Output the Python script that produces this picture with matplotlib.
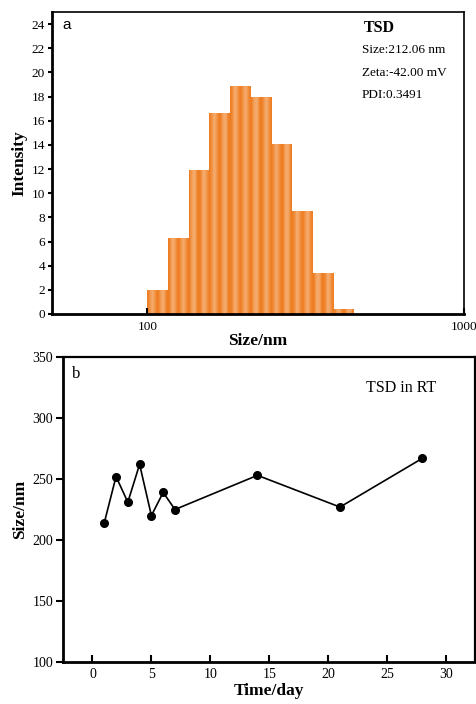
import numpy as np
import matplotlib
matplotlib.use("Agg")
import matplotlib.pyplot as plt
from matplotlib.colors import to_rgb

plt.rcParams['font.family'] = ['Liberation Serif', 'DejaVu Serif']

# ---- data: panel a (size distribution) ----
bin_edges_nm = [100.0, 116.2, 135.1, 157.0, 182.5, 212.1, 246.6, 286.6, 333.1, 387.2, 450.1]
intensity = [1.95, 6.3, 11.9, 16.6, 18.9, 18.0, 14.05, 8.5, 3.4, 0.38]
a_yticks = list(range(0, 25, 2))
a_xticks = [100, 1000]
a_info_title = "TSD"
a_info_lines = ["Size:212.06 nm", "Zeta:-42.00 mV", "PDI:0.3491"]

# ---- data: panel b (stability) ----
days = [1, 2, 3, 4, 5, 6, 7, 14, 21, 28]
size_nm = [214, 252, 231, 262, 220, 239, 225, 253, 227, 267]
b_xticks = [0, 5, 10, 15, 20, 25, 30]
b_yticks = [100, 150, 200, 250, 300, 350]

fig = plt.figure(figsize=(4.77, 7.04), dpi=100)

# ---------------- panel a ----------------
ax1 = fig.add_axes([52/477, 1-314/704, (464-52)/477, (314-12)/704])
ax1.set_xscale('log')
dark = np.array(to_rgb('#EE7D22'))
light = np.array(to_rgb('#F4AA6B'))
nstrip = 24
for lo, hi, h in zip(bin_edges_nm[:-1], bin_edges_nm[1:], intensity):
    llo, lhi = np.log10(lo), np.log10(hi)
    edges = np.linspace(llo, lhi, nstrip + 1)
    for k in range(nstrip):
        f = (k + 0.5) / nstrip
        w = 0.5 - 0.5 * np.cos(2 * np.pi * 2 * f)
        c = dark * (1 - w) + light * w
        l0, l1 = 10 ** edges[k], 10 ** edges[k + 1]
        ax1.bar(l0, h, width=(l1 - l0) * 1.05, align='edge', color=c,
                linewidth=0, antialiased=False)
ax1.set_xlim(50, 1000)
ax1.set_ylim(0, 25)
ax1.set_xticks(a_xticks)
ax1.set_xticklabels([str(v) for v in a_xticks])
ax1.xaxis.set_minor_locator(matplotlib.ticker.NullLocator())
ax1.set_yticks(a_yticks)
ax1.tick_params(axis='y', direction='out', length=3, width=1.5, labelsize=9.5, pad=2)
ax1.tick_params(axis='x', direction='in', length=4, width=1.5, labelsize=9.5, pad=5)
for s in ['top', 'right']:
    ax1.spines[s].set_linewidth(1.2)
for s in ['left', 'bottom']:
    ax1.spines[s].set_linewidth(2.0)
ax1.set_ylabel('Intensity', fontsize=12.5, fontweight='bold', labelpad=3)
ax1.set_xlabel('Size/nm', fontsize=12.5, fontweight='bold', labelpad=0)
ax1.text(62/477, 1-25/704, 'a', transform=fig.transFigure, family=['Liberation Sans'],
         fontsize=11, va='center', ha='left')
ax1.text(364/477, 1-28/704, a_info_title, transform=fig.transFigure, fontsize=11.5,
         fontweight='bold', va='center', ha='left')
for i, t in enumerate(a_info_lines):
    ax1.text(362/477, 1-(50 + i*22.5)/704, t, transform=fig.transFigure, fontsize=9.5,
             va='center', ha='left')

# ---------------- panel b ----------------
ax2 = fig.add_axes([63/477, 1-662/704, (475.5-63)/477, (662-357)/704])
ax2.plot(days, size_nm, color='black', linewidth=1.2, marker='o', markersize=5.5)
ax2.set_xlim(-2.5, 32.5)
ax2.set_ylim(100, 350)
ax2.set_xticks(b_xticks)
ax2.set_yticks(b_yticks)
ax2.tick_params(axis='y', direction='out', length=5, width=1.5, labelsize=10, pad=2)
ax2.tick_params(axis='x', direction='in', length=5, width=1.5, labelsize=10, pad=4)
for s in ax2.spines.values():
    s.set_linewidth(1.6)
ax2.spines['left'].set_linewidth(2.0)
ax2.spines['bottom'].set_linewidth(2.0)
ax2.set_ylabel('Size/nm', fontsize=12.5, fontweight='bold', labelpad=3)
ax2.set_xlabel('Time/day', fontsize=12.5, fontweight='bold', labelpad=2)
ax2.text(72/477, 1-374/704, 'b', transform=fig.transFigure, fontsize=12, va='center', ha='left')
ax2.text(366/477, 1-388/704, 'TSD in RT', transform=fig.transFigure, fontsize=11.5,
         va='center', ha='left')

fig.savefig('out.png', dpi=100)
